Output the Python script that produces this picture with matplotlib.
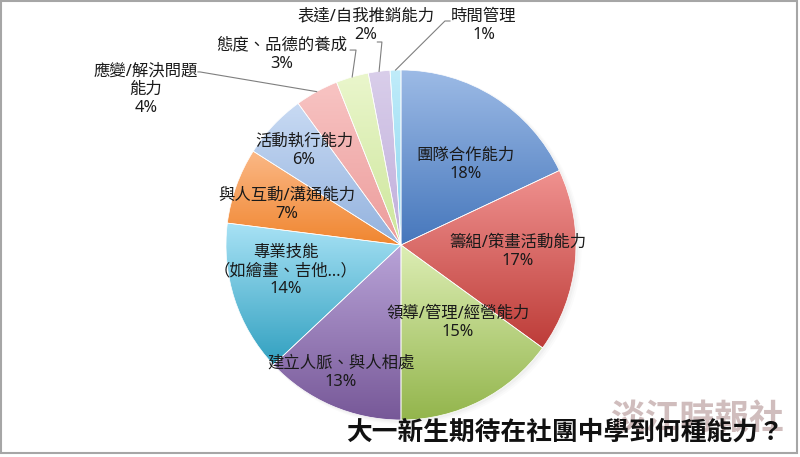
import numpy as np
import matplotlib
matplotlib.use("Agg")
import matplotlib.pyplot as plt
from matplotlib.colors import to_rgb
from matplotlib.patches import Rectangle, Circle

plt.rcParams['font.family'] = ['Noto Sans', 'Noto Sans CJK TC', 'DejaVu Sans']

# ---------------- data ----------------
categories = ["團隊合作能力", "籌組/策畫活動能力", "領導/管理/經營能力", "建立人脈、與人相處",
              "專業技能\n（如繪畫、吉他…）", "與人互動/溝通能力", "活動執行能力",
              "應變/解決問題\n能力", "態度、品德的養成", "表達/自我推銷能力", "時間管理"]
values = [18, 17, 15, 13, 14, 7, 6, 4, 3, 2, 1]
title = "大一新生期待在社團中學到何種能力？"
watermark = "淡江時報社"

# ---------------- styles ----------------
grad_top = ["#9DBBE6", "#F09290", "#DDEEB5", "#B9A4D8", "#A8E2F5", "#FBB886",
            "#C8DAF3", "#F8C4C3", "#EAF6CC", "#D9CEEA", "#C0ECFA"]
grad_bot = ["#4677BC", "#BD3C38", "#93B54C", "#775898", "#31A0C0", "#F08630",
            "#93B2DE", "#EC9C9B", "#CDE69B", "#C0AEDB", "#88D5EE"]

# label positions (in pie-radius units)
label_pos = [(0.371, 0.457), (0.669, -0.04), (0.326, -0.446), (-0.343, -0.731),
             (-0.657, -0.149), (-0.651, 0.229), (-0.554, 0.537),
             (-1.457, 0.886), (-0.68, 1.086), (-0.2, 1.251), (0.474, 1.251)]
# leader line elbows for the small outside labels
leaders = {
    7: [(-1.149, 0.989), (-1.16, 0.989)],
    8: [(-0.257, 1.114), (-0.29, 1.114)],
    9: [(-0.109, 1.16), (-0.135, 1.16)],
    10: [(0.251, 1.28), (0.28, 1.28)],
}

W, H = 800, 457
cx, cy, R = 401, 245, 175

fig = plt.figure(figsize=(W / 100, H / 100), dpi=100)
fig.patch.set_facecolor("white")
ax = fig.add_axes([0, 0, 1, 1])

wedges, _ = ax.pie(values, startangle=90, counterclock=False, radius=1,
                   wedgeprops=dict(edgecolor="white", linewidth=0.5))

xlim = (-cx / R, (W - cx) / R)
ylim = (-(H - cy) / R, cy / R)

# soft shadow
for k, a in enumerate([0.05, 0.04, 0.03]):
    sh = Circle((0.012 + 0.006 * k, -0.01 - 0.004 * k), 1.0 + 0.004 * k,
                facecolor="#808080", edgecolor="none", alpha=a, zorder=0)
    ax.add_patch(sh)

t = np.linspace(0, 1, 256).reshape(-1, 1, 1)
for w, ct, cb in zip(wedges, grad_top, grad_bot):
    ext = w.get_path().get_extents()
    top = np.array(to_rgb(ct)).reshape(1, 1, 3)
    bot = np.array(to_rgb(cb)).reshape(1, 1, 3)
    img = top * (1 - t) + bot * t
    im = ax.imshow(img, extent=(ext.x0, ext.x1, ext.y0, ext.y1), origin="upper",
                   aspect="auto", interpolation="bilinear", zorder=1)
    im.set_clip_path(w)
    w.set_facecolor("none")
    w.set_zorder(2)

# labels
for i, (lab, v) in enumerate(zip(categories, values)):
    x, y = label_pos[i]
    ax.text(x, y, f"{lab}\n{v}%", ha="center", va="center", fontsize=11.8,
            color="#1a1a1a", linespacing=1.2, zorder=5)

# leader lines
for i, pts in leaders.items():
    w = wedges[i]
    ang = np.deg2rad((w.theta1 + w.theta2) / 2)
    xs = [np.cos(ang)] + [p[0] for p in pts]
    ys = [np.sin(ang)] + [p[1] for p in pts]
    ax.plot(xs, ys, color="#7f7f7f", lw=0.8, zorder=4, clip_on=False)

ax.set_aspect("auto")
ax.set_xlim(*xlim)
ax.set_ylim(*ylim)
ax.axis("off")

# watermark and title
fig.text(697 / W, 1 - 420 / H, watermark, ha="center", va="center", fontsize=25,
         fontweight="bold", color="#C8B2B2", alpha=0.85, zorder=6)
fig.text(565 / W, 1 - 433 / H, title, ha="center", va="center", fontsize=18.5,
         fontweight="bold", color="#111111", zorder=7)

# frame
fig.add_artist(Rectangle((1 / W, (H - 453) / H), 796 / W, 452 / H, transform=fig.transFigure,
                         fill=False, edgecolor="#A6A6A6", lw=1.5))

fig.savefig("out.png", dpi=100)
